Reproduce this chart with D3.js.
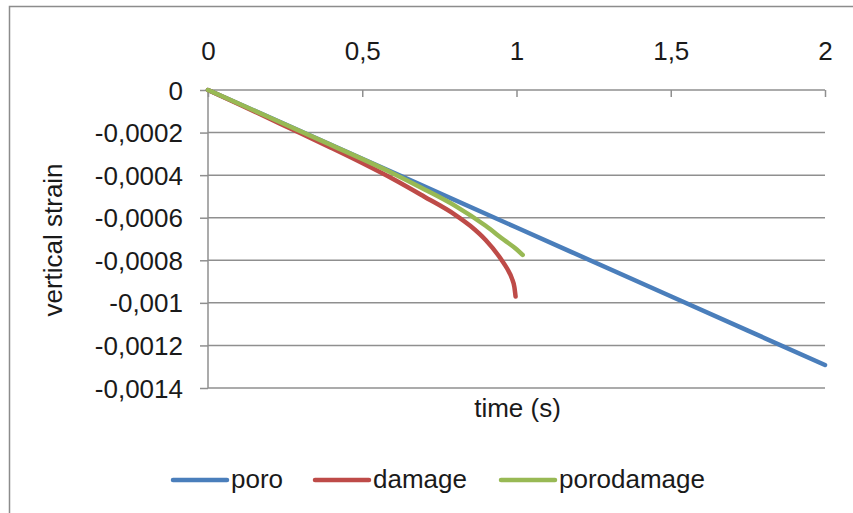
<!DOCTYPE html>
<html>
<head>
<meta charset="utf-8">
<script src="https://cdn.jsdelivr.net/npm/d3@7"></script>
<style>
  html, body { margin: 0; padding: 0; background: #fff; }
  svg text { font-family: "Liberation Sans", Arial, sans-serif; fill: #1a1a1a; }
</style>
</head>
<body>
<svg id="chart" width="853" height="513"></svg>
<script>
// ---- data ----
const seriesNames = ["poro", "damage", "porodamage"];
const seriesColors = ["#4a7ebb", "#be4b48", "#98b954"];

const poroTime   = [0, 0.5, 1, 1.5, 2];
const poroStrain = [0, -0.000323, -0.000646, -0.000969, -0.001292];

const damageTime   = [0, 0.1, 0.2, 0.3, 0.4, 0.5, 0.6, 0.7, 0.8, 0.85, 0.9, 0.95, 0.97, 0.985, 0.993, 0.997];
const damageStrain = [0, -0.000067, -0.000135, -0.000203, -0.000272, -0.000343, -0.000418, -0.000500, -0.000585, -0.000638, -0.000705, -0.000795, -0.000840, -0.000885, -0.000925, -0.000970];

const porodamageTime   = [0, 0.2, 0.4, 0.6, 0.69, 0.8, 0.9, 0.96, 1.0, 1.02];
const porodamageStrain = [0, -0.000129, -0.000259, -0.000392, -0.000458, -0.000543, -0.000638, -0.000705, -0.000748, -0.000775];

const xTickValues = [0, 0.5, 1, 1.5, 2];
const xTickLabels = ["0", "0,5", "1", "1,5", "2"];
const yTickValues = [0, -0.0002, -0.0004, -0.0006, -0.0008, -0.001, -0.0012, -0.0014];
const yTickLabels = ["0", "-0,0002", "-0,0004", "-0,0006", "-0,0008", "-0,001", "-0,0012", "-0,0014"];

const xTitle = "time (s)";
const yTitle = "vertical strain";

// ---- layout ----
const svg = d3.select("#chart");
const pLeft = 208, pRight = 825, pTop = 90, pBottom = 388;
const x = d3.scaleLinear().domain([0, 2]).range([pLeft, pRight]);
const y = d3.scaleLinear().domain([0, -0.0014]).range([pTop, pBottom]);
const gridColor = "#8f8f8f";
const fontSize = 26;

// outer border
svg.append("rect")
  .attr("x", 9.5).attr("y", 6.5)
  .attr("width", 860).attr("height", 520)
  .attr("fill", "none").attr("stroke", "#8c8c8c").attr("stroke-width", 1.5);

// gridlines
svg.append("g").selectAll("line")
  .data(yTickValues)
  .join("line")
  .attr("x1", pLeft).attr("x2", pRight)
  .attr("y1", d => y(d)).attr("y2", d => y(d))
  .attr("stroke", gridColor).attr("stroke-width", 1.5);

// y axis
const yAxis = d3.axisLeft(y)
  .tickValues(yTickValues)
  .tickFormat((d, i) => yTickLabels[i])
  .tickSize(8).tickPadding(17);
const gy = svg.append("g").attr("transform", `translate(${pLeft},0)`).call(yAxis);
gy.select(".domain").remove();
gy.selectAll(".tick line").attr("stroke", gridColor).attr("stroke-width", 1.5);
gy.selectAll(".tick text").attr("font-size", fontSize).attr("dy", "0.35em");
gy.attr("font-family", null).attr("font-size", null);
svg.append("line")
  .attr("x1", pLeft).attr("x2", pLeft).attr("y1", pTop).attr("y2", pBottom)
  .attr("stroke", gridColor).attr("stroke-width", 1.5);

// x axis (top, ticks pointing down)
const xAxis = d3.axisTop(x)
  .tickValues(xTickValues)
  .tickFormat((d, i) => xTickLabels[i])
  .tickSizeInner(-7).tickSizeOuter(0).tickPadding(30);
const gx = svg.append("g").attr("transform", `translate(0,${pTop})`).call(xAxis);
gx.select(".domain").remove();
gx.selectAll(".tick line").attr("stroke", gridColor).attr("stroke-width", 1.5);
gx.selectAll(".tick text").attr("font-size", fontSize);
gx.attr("font-family", null).attr("font-size", null);

// axis titles
svg.append("text")
  .attr("x", (pLeft + pRight) / 2 + 1).attr("y", 417)
  .attr("text-anchor", "middle").attr("font-size", fontSize)
  .text(xTitle);
svg.append("text")
  .attr("transform", "translate(62,240) rotate(-90)")
  .attr("text-anchor", "middle").attr("font-size", fontSize)
  .text(yTitle);

// series
const series = [
  { name: seriesNames[0], color: seriesColors[0], t: poroTime, v: poroStrain },
  { name: seriesNames[1], color: seriesColors[1], t: damageTime, v: damageStrain },
  { name: seriesNames[2], color: seriesColors[2], t: porodamageTime, v: porodamageStrain }
];
const line = d3.line()
  .x(d => x(d[0])).y(d => y(d[1]))
  .curve(d3.curveMonotoneX);
svg.append("g").selectAll("path")
  .data(series)
  .join("path")
  .attr("d", s => line(s.t.map((t, i) => [t, s.v[i]])))
  .attr("fill", "none")
  .attr("stroke", s => s.color)
  .attr("stroke-width", 4.5)
  .attr("stroke-linecap", "round")
  .attr("stroke-linejoin", "round");

// legend
const legendX = [173, 315, 501];
const lg = svg.append("g");
series.forEach((s, i) => {
  lg.append("line")
    .attr("x1", legendX[i]).attr("x2", legendX[i] + 54)
    .attr("y1", 480).attr("y2", 480)
    .attr("stroke", s.color).attr("stroke-width", 4.5).attr("stroke-linecap", "round");
  lg.append("text")
    .attr("x", legendX[i] + 58).attr("y", 488)
    .attr("font-size", fontSize)
    .text(s.name);
});
</script>
</body>
</html>
